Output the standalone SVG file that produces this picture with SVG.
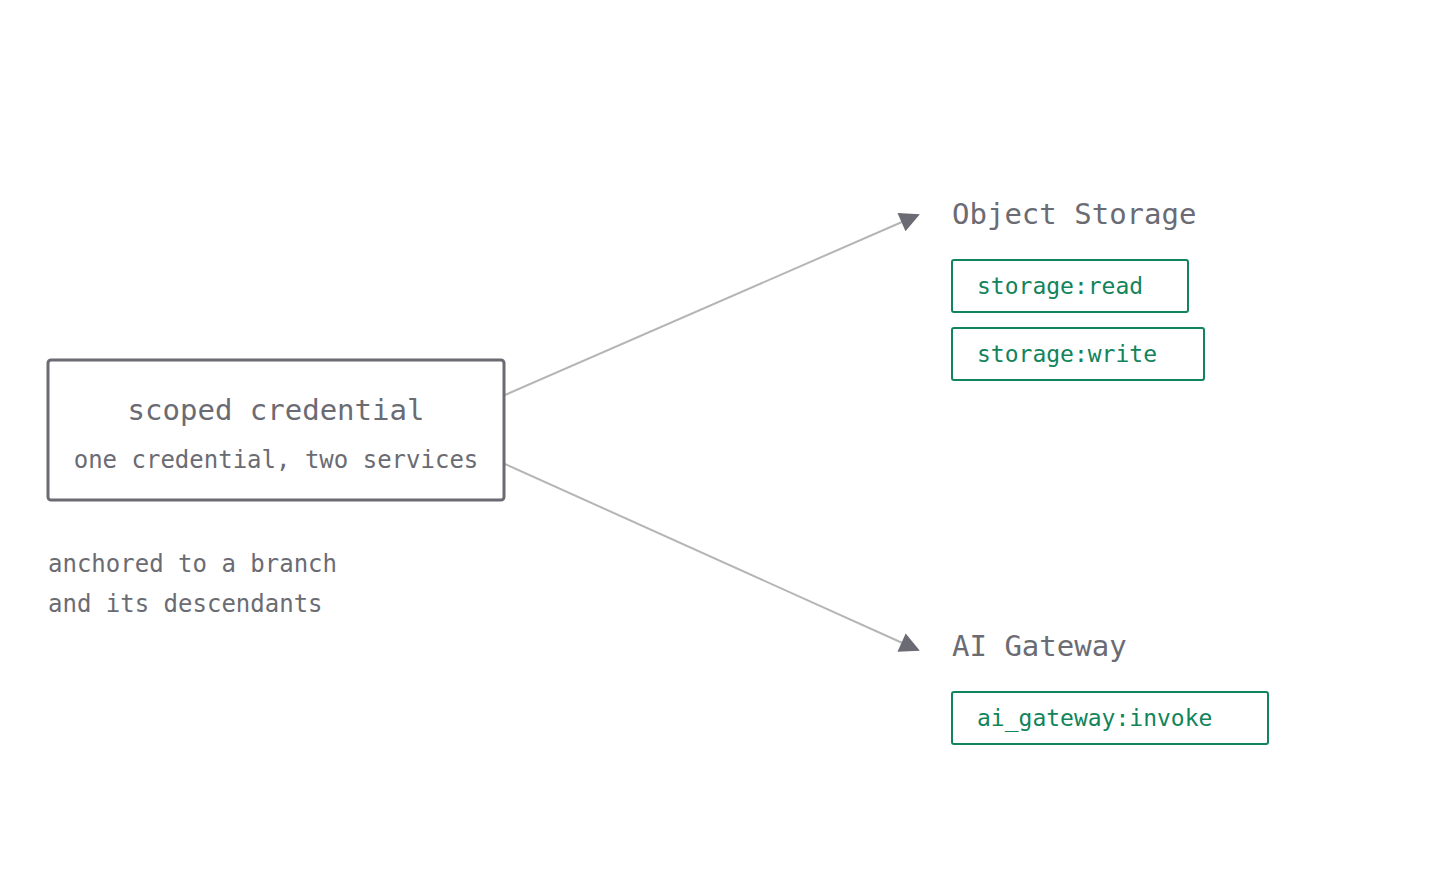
<svg xmlns="http://www.w3.org/2000/svg" width="1440" height="896" viewBox="0 0 1440 896">
<style>
text{font-family:"DejaVu Sans Mono","Liberation Mono",monospace;fill:#6b6b73}
.t{font-size:29px}
.s{font-size:24px}
.g{font-size:23px;fill:#11845b}
.tag{fill:#fff;stroke:#11845b;stroke-width:2}
.c{stroke:#b5b5b5;stroke-width:2;fill:none}
</style>
<defs><marker id="a" viewBox="0 0 10 10" refX="9" refY="5" markerWidth="10" markerHeight="10" markerUnits="userSpaceOnUse" orient="auto"><path d="M0,0L10,5L0,10z" fill="#6b6b73"/></marker>
<marker id="b" viewBox="0 0 10 10" refX="9" refY="5" markerWidth="22" markerHeight="20" markerUnits="userSpaceOnUse" orient="auto"><path d="M0,0L10,5L0,10z" fill="#6b6b73"/></marker></defs>
<rect width="1440" height="896" fill="#fff"/>
<g id="connectors">
<line class="c" x1="505" y1="395" x2="918" y2="215" marker-end="url(#b)"/>
<line class="c" x1="505" y1="464" x2="918" y2="650" marker-end="url(#b)"/>
</g>
<g id="credential">
<rect x="48" y="360" width="456" height="140" rx="3" fill="#fff" stroke="#6b6b73" stroke-width="3"/>
<text class="t" x="276" y="420" text-anchor="middle">scoped credential</text>
<text class="s" x="276" y="468" text-anchor="middle">one credential, two services</text>
</g>
<g id="note">
<text class="s" x="48" y="572">anchored to a branch</text>
<text class="s" x="48" y="612">and its descendants</text>
</g>
<g id="storage">
<text class="t" x="952" y="224">Object Storage</text>
<rect class="tag" x="952" y="260" width="236" height="52" rx="2"/>
<text class="g" x="977" y="294">storage:read</text>
<rect class="tag" x="952" y="328" width="252" height="52" rx="2"/>
<text class="g" x="977" y="362">storage:write</text>
</g>
<g id="gateway">
<text class="t" x="952" y="656">AI Gateway</text>
<rect class="tag" x="952" y="692" width="316" height="52" rx="2"/>
<text class="g" x="977" y="726">ai_gateway:invoke</text>
</g>
</svg>
